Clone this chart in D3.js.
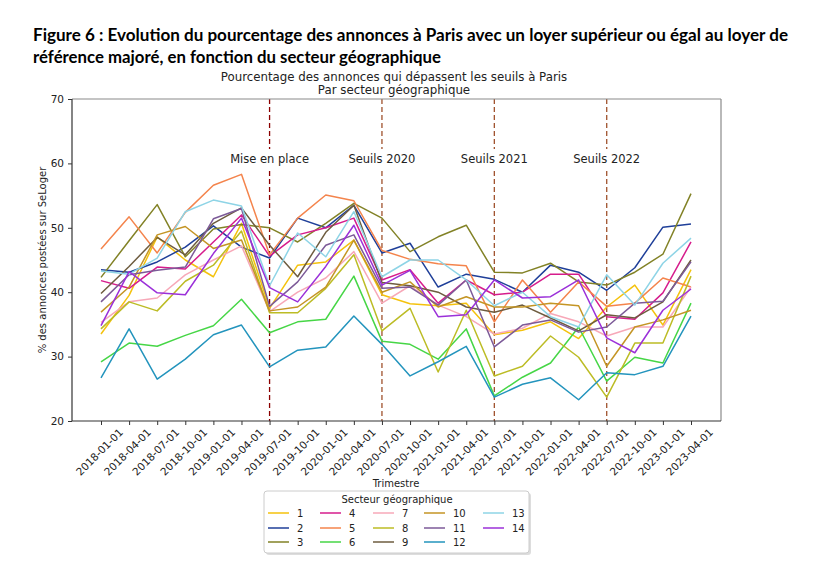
<!DOCTYPE html>
<html><head><meta charset="utf-8">
<script src="https://cdn.jsdelivr.net/npm/d3@7"></script>
<style>body{margin:0;background:#fff}svg{display:block}</style>
</head><body>
<svg id="c" width="819" height="571"></svg>
<script>
const quarters = ["2018-01-01","2018-04-01","2018-07-01","2018-10-01","2019-01-01","2019-04-01","2019-07-01","2019-10-01","2020-01-01","2020-04-01","2020-07-01","2020-10-01","2021-01-01","2021-04-01","2021-07-01","2021-10-01","2022-01-01","2022-04-01","2022-07-01","2022-10-01","2023-01-01","2023-04-01"];
const sectors = ["1","2","3","4","5","6","7","8","9","10","11","12","13","14"];
const s1  = [33.5,39.5,48.6,45.0,42.4,50.7,37.5,44.2,44.7,48.1,39.6,38.2,37.9,38.3,33.4,34.1,35.4,32.8,37.7,41.1,34.9,43.5];
const s2  = [43.5,43.1,44.7,47.0,50.3,47.0,45.3,51.5,50.0,53.5,46.1,47.6,40.8,42.8,42.0,40.0,44.2,43.1,40.3,43.8,50.1,50.6];
const s3  = [42.3,48.0,53.6,45.5,49.8,50.5,50.0,47.8,50.7,53.8,51.5,46.3,48.6,50.4,43.1,43.0,44.5,41.6,41.1,43.1,45.9,55.3];
const s4  = [41.8,40.6,43.9,43.6,47.8,52.0,45.6,48.9,50.0,51.5,41.9,43.5,38.3,41.9,39.6,40.0,42.8,42.8,36.2,35.8,39.9,47.8];
const s5  = [46.7,51.7,46.1,52.4,56.6,58.3,45.8,51.5,55.1,54.2,46.5,45.1,44.4,44.1,35.4,41.9,36.9,41.6,37.8,38.3,42.2,40.8];
const s6  = [29.2,32.1,31.6,33.3,34.8,38.9,33.7,35.4,35.8,42.5,32.4,31.9,29.6,34.3,23.9,26.8,29.0,34.6,26.2,29.9,29.0,38.3];
const s7  = [35.3,38.5,39.1,42.7,45.0,47.2,37.0,40.0,42.2,46.3,38.3,41.0,38.0,36.2,33.5,34.4,36.7,35.4,33.2,34.6,34.6,40.8];
const s8  = [34.3,38.5,37.1,41.7,44.2,49.5,36.8,36.8,40.6,45.8,34.0,37.5,27.6,37.2,27.0,28.5,33.2,29.9,23.7,32.1,32.1,42.5];
const s9  = [39.8,44.0,48.5,45.8,50.7,53.1,47.3,42.4,49.3,53.5,41.5,41.0,40.0,37.7,36.9,38.0,36.0,34.0,36.5,36.0,38.5,45.0];
const s10 = [36.9,40.8,48.9,50.2,46.8,48.1,37.1,37.7,40.8,48.1,40.0,41.6,37.7,39.3,37.7,37.7,38.3,37.9,28.5,34.6,35.7,37.2];
const s11 = [38.5,42.7,43.4,43.9,51.4,53.0,37.8,41.6,47.3,48.9,40.6,40.8,38.0,41.9,31.5,34.9,35.7,33.8,34.6,38.3,38.6,44.7];
const s12 = [26.7,34.3,26.5,29.6,33.4,34.9,28.4,31.0,31.5,36.3,31.9,27.0,29.2,31.6,23.7,25.7,26.7,23.3,27.5,27.2,28.5,36.3];
const s13 = [43.3,42.8,45.3,52.5,54.3,53.4,41.0,49.2,45.5,52.5,42.4,45.0,45.0,41.9,37.9,40.0,36.2,34.6,42.7,38.0,44.5,48.4];
const s14 = [34.8,43.2,39.9,39.6,46.0,51.5,40.7,38.5,44.0,50.4,41.1,43.4,36.2,36.5,41.9,39.1,39.3,41.9,32.9,30.6,37.2,40.5];
const seriesValues = [s1,s2,s3,s4,s5,s6,s7,s8,s9,s10,s11,s12,s13,s14];
const colors = ["#f4c20d","#1f3f99","#828226","#d61c8c","#f4844c","#46d646","#f7a8b8","#bcbc25","#6e5c3f","#c49525","#7c5a98","#2394bd","#8ed4e6","#9b30d9"];
const markerDates = ["2019-07-01","2020-07-01","2021-07-01","2022-07-01"];
const markerLabels = ["Mise en place","Seuils 2020","Seuils 2021","Seuils 2022"];
const markerColors = ["#8b0000","#a0522d","#a0522d","#a0522d"];
const yTicks = [20,30,40,50,60,70];

const svg = d3.select("#c");
const L = 72, R = 721, T = 99, B = 421;
const x = d3.scalePoint().domain(quarters).range([101, 691]);
const y = d3.scaleLinear().domain([20,70]).range([B, T]);

// Figure title
const ft = svg.append("g").attr("font-family","Lato, 'Open Sans', sans-serif").attr("font-weight","bold").attr("font-size",16.5).attr("fill","#000");
ft.append("text").attr("x",33).attr("y",41).attr("textLength",755).attr("lengthAdjust","spacingAndGlyphs")
  .text("Figure 6 : Evolution du pourcentage des annonces à Paris avec un loyer supérieur ou égal au loyer de");
ft.append("text").attr("x",33).attr("y",63).attr("textLength",408).attr("lengthAdjust","spacingAndGlyphs")
  .text("référence majoré, en fonction du secteur géographique");

// chart title
const ct = svg.append("g").attr("font-family","'DejaVu Sans', sans-serif").attr("font-size",11.8).attr("fill","#222").attr("text-anchor","middle");
ct.append("text").attr("x",394).attr("y",81).text("Pourcentage des annonces qui dépassent les seuils à Paris");
ct.append("text").attr("x",394).attr("y",94).text("Par secteur géographique");

// vertical markers
markerDates.forEach((d,i)=>{
  svg.append("line").attr("x1",x(d)).attr("x2",x(d)).attr("y1",T).attr("y2",B)
    .attr("stroke",markerColors[i]).attr("stroke-width",1.3).attr("stroke-dasharray","5,3");
});

// lines
const line = d3.line().x((d,i)=>x(quarters[i])).y(d=>y(d));
seriesValues.forEach((vals,k)=>{
  svg.append("path").datum(vals).attr("d",line).attr("fill","none")
    .attr("stroke",colors[k]).attr("stroke-width",1.5).attr("stroke-linejoin","round");
});

// marker labels with white background
markerDates.forEach((d,i)=>{
  const g = svg.append("g");
  const t = g.append("text").attr("x",x(d)).attr("y",163).attr("text-anchor","middle")
    .attr("font-family","'DejaVu Sans', sans-serif").attr("font-size",11.5).attr("fill","#222").text(markerLabels[i]);
  const bb = t.node().getBBox();
  g.insert("rect","text").attr("x",bb.x-1).attr("y",bb.y-3).attr("width",bb.width+2).attr("height",bb.height+6).attr("fill","#fff");
});

// frame
svg.append("line").attr("x1",L).attr("x2",R).attr("y1",T).attr("y2",T).attr("stroke","#8a8a8a").attr("stroke-width",1.2);
svg.append("line").attr("x1",R).attr("x2",R).attr("y1",T).attr("y2",B).attr("stroke","#8a8a8a").attr("stroke-width",1.2);

// axes
const yAxis = svg.append("g").attr("transform",`translate(${L},0)`)
  .call(d3.axisLeft(y).tickValues(yTicks).tickSize(4).tickPadding(4).tickFormat(d3.format("d")));
const xAxis = svg.append("g").attr("transform",`translate(0,${B})`)
  .call(d3.axisBottom(x).tickSize(4).tickPadding(2));
[yAxis,xAxis].forEach(a=>{
  a.select(".domain").attr("stroke","#333").attr("stroke-width",1.2);
  a.selectAll(".tick line").attr("stroke","#333");
  a.selectAll("text").attr("font-family","'DejaVu Sans', sans-serif").attr("font-size",10.5).attr("fill","#222");
});
yAxis.select(".domain").attr("d",`M0,${T}V${B}`);
xAxis.select(".domain").attr("d",`M${L},0H${R}`);
xAxis.selectAll(".tick text").attr("text-anchor","middle").attr("dy","0.35em")
  .attr("transform","translate(-2,31) rotate(-45)").attr("y",0).attr("x",0);

// axis labels
svg.append("text").attr("transform",`translate(46,${(T+B)/2}) rotate(-90)`).attr("text-anchor","middle")
  .attr("font-family","'DejaVu Sans', sans-serif").attr("font-size",10).attr("fill","#222").text("% des annonces postées sur SeLoger");
svg.append("text").attr("x",396).attr("y",487).attr("text-anchor","middle")
  .attr("font-family","'DejaVu Sans', sans-serif").attr("font-size",10).attr("fill","#222").text("Trimestre");

// legend
const lg = svg.append("g");
lg.append("rect").attr("x",266).attr("y",493).attr("width",265).attr("height",62).attr("rx",3).attr("fill","#bbb").attr("opacity",0.5);
lg.append("rect").attr("x",264).attr("y",491).attr("width",265).attr("height",62).attr("rx",3).attr("fill","#fff").attr("stroke","#ccc");
lg.append("text").attr("x",397).attr("y",503).attr("text-anchor","middle")
  .attr("font-family","'DejaVu Sans', sans-serif").attr("font-size",10).attr("fill","#222").text("Secteur géographique");
const colX = [268,320,373,424,483];
const rowY = [513,528,542];
sectors.forEach((s,k)=>{
  const c = Math.floor(k/3), r = k%3;
  lg.append("line").attr("x1",colX[c]).attr("x2",colX[c]+21).attr("y1",rowY[r]).attr("y2",rowY[r]).attr("stroke",colors[k]).attr("stroke-width",1.5);
  lg.append("text").attr("x",colX[c]+29).attr("y",rowY[r]).attr("dy","0.35em")
    .attr("font-family","'DejaVu Sans', sans-serif").attr("font-size",10).attr("fill","#222").text(s);
});
</script>
</body></html>
